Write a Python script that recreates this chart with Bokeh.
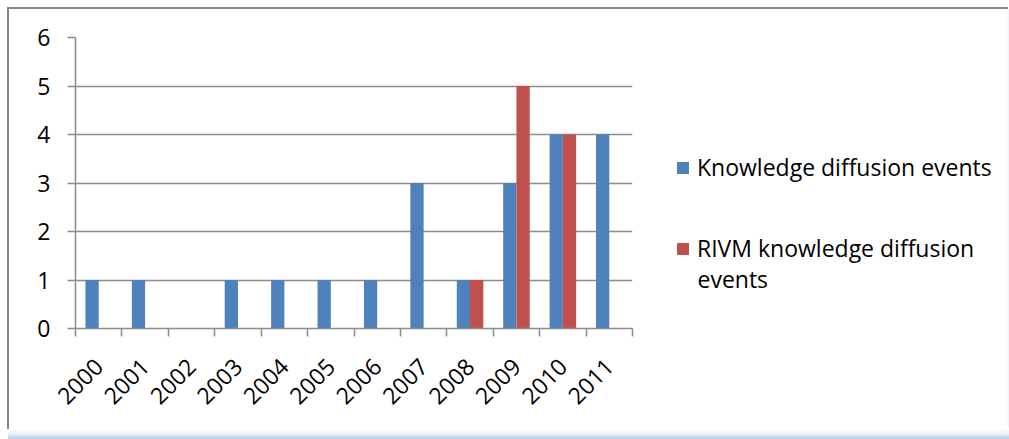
from bokeh.plotting import figure
from bokeh.layouts import row
from bokeh.models import (ColumnDataSource, FixedTicker, Range1d, Legend, LegendItem,
                          Label)
from bokeh.embed import file_html
from bokeh.resources import INLINE
import math

# Data
years = ["2000", "2001", "2002", "2003", "2004", "2005",
         "2006", "2007", "2008", "2009", "2010", "2011"]
all_events = [1, 1, 0, 1, 1, 1, 1, 3, 1, 3, 4, 4]
rivm_events = [0, 0, 0, 0, 0, 0, 0, 0, 1, 5, 4, 0]
series_names = ["Knowledge diffusion events", "RIVM knowledge diffusion events"]
y_ticks = [0, 1, 2, 3, 4, 5, 6]

BLUE = "#4F81BD"
RED = "#C0504D"
GRID = "#8C8C8C"
FONT = "Open Sans"
FONT_SIZE = "23px"

n = len(years)
centers = [i + 0.5 for i in range(n)]
bar_w = 1 / 3.5  # two bars plus a 150% gap per category

src = ColumnDataSource(dict(
    xb=[c - bar_w / 2 for c in centers],
    xr=[c + bar_w / 2 for c in centers],
    kd=all_events,
    rivm=rivm_events,
))

# ---- bar chart -------------------------------------------------------------
p = figure(width=640, height=439, output_backend="svg", toolbar_location=None,
           x_range=Range1d(0, n), y_range=Range1d(0, 6),
           min_border_left=75, min_border_right=8,
           min_border_top=37, min_border_bottom=111)
p.outline_line_color = None
p.background_fill_color = "white"
p.border_fill_alpha = 0

p.vbar(x="xb", top="kd", width=bar_w, source=src, fill_color=BLUE, line_color=None)
p.vbar(x="xr", top="rivm", width=bar_w, source=src, fill_color=RED, line_color=None)

# y axis
p.yaxis.ticker = FixedTicker(ticks=y_ticks, minor_ticks=[])
p.yaxis.axis_line_color = GRID
p.yaxis.axis_line_width = 1.5
p.yaxis.major_tick_line_color = GRID
p.yaxis.major_tick_line_width = 1.5
p.yaxis.major_tick_out = 8
p.yaxis.major_tick_in = 0
p.yaxis.minor_tick_line_color = None
p.yaxis.major_label_standoff = 17
p.yaxis.major_label_text_font = FONT
p.yaxis.major_label_text_font_size = FONT_SIZE
p.yaxis.major_label_text_color = "black"

# x axis: labels at category centers, tick marks at category boundaries
p.xaxis.ticker = FixedTicker(ticks=centers, minor_ticks=list(range(n + 1)))
p.xaxis.major_label_overrides = {c: y for c, y in zip(centers, years)}
p.xaxis.major_tick_line_color = None
p.xaxis.minor_tick_line_color = GRID
p.xaxis.minor_tick_line_width = 1.5
p.xaxis.minor_tick_out = 8
p.xaxis.minor_tick_in = 0
p.xaxis.axis_line_color = GRID
p.xaxis.axis_line_width = 1.5
p.xaxis.major_label_orientation = math.pi / 4
p.xaxis.major_label_standoff = 26
p.xaxis.major_label_text_font = FONT
p.xaxis.major_label_text_font_size = FONT_SIZE
p.xaxis.major_label_text_color = "black"

p.xgrid.grid_line_color = None
p.ygrid.ticker = FixedTicker(ticks=y_ticks[1:])
p.ygrid.grid_line_color = GRID
p.ygrid.grid_line_width = 1.5

# ---- legend panel ----------------------------------------------------------
lg = figure(width=369, height=439, output_backend="svg", toolbar_location=None,
            x_range=Range1d(0, 1), y_range=Range1d(0, 1),
            x_axis_type=None, y_axis_type=None,
            min_border=0, min_border_left=0, min_border_right=0,
            min_border_top=0, min_border_bottom=0)
lg.outline_line_color = None
lg.background_fill_alpha = 0
lg.border_fill_alpha = 0
lg.grid.visible = False

# key swatches: one bar each, placed outside the visible range
key_src = ColumnDataSource(dict(x=[5], top=[1]))
k_blue = lg.vbar(x="x", top="top", width=0.1, source=key_src, fill_color=BLUE, line_color=None)
k_red = lg.vbar(x="x", top="top", width=0.1, source=key_src, fill_color=RED, line_color=None)

first_line, second_line = series_names[1].rsplit(" ", 1)
legend_style = dict(padding=0, margin=0, border_line_color=None, background_fill_alpha=0,
                    glyph_width=15, glyph_height=15, label_standoff=7,
                    label_text_font=FONT, label_text_font_size=FONT_SIZE,
                    label_text_color="black", label_height=20)
lg.add_layout(Legend(items=[LegendItem(label=series_names[0], renderers=[k_blue])],
                     location=(35, 145), **legend_style), "center")
lg.add_layout(Legend(items=[LegendItem(label=first_line, renderers=[k_red])],
                     location=(35, 64), **legend_style), "center")
lg.add_layout(Label(x=57, y=50, x_units="screen", y_units="screen", text=second_line,
                    text_font=FONT, text_font_size=FONT_SIZE, text_color="black",
                    text_baseline="alphabetic"))

# Chart-area frame (top and left rules), soft blue strips along the bottom and right edges
layout = row(p, lg, spacing=0, styles={
    "background-color": "white",
    "background-image": ("linear-gradient(#858585, #858585), "
                         "linear-gradient(#858585, #858585), "
                         "linear-gradient(to bottom, #FFFFFF 0%, #EEF4FB 45%, "
                         "#CFE2F3 75%, #A9CBE9 100%), "
                         "linear-gradient(to right, #FFFFFF 0%, #EEF4FB 100%)"),
    "background-position": "7px 7px, 7px 7px, 8px 428px, 1006px 9px",
    "background-size": "1001px 2px, 2px 422px, 1001px 11px, 3px 419px",
    "background-repeat": "no-repeat",
})

open("out.html", "w").write(file_html(layout, INLINE))
